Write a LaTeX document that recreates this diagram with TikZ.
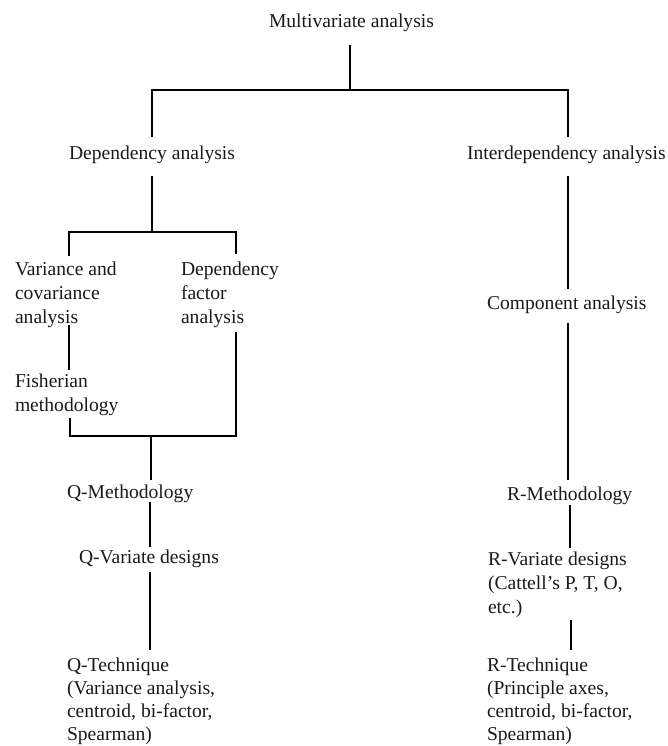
\documentclass[tikz,border=0pt]{standalone}
\usepackage{fontspec}
\setmainfont{Liberation Serif}
\definecolor{txt}{HTML}{1A1A1A}
\newcommand{\mlines}[1]{\begin{tabular}[t]{@{}l@{}}#1\end{tabular}}
\begin{document}
\begin{tikzpicture}[x=1pt,y=-1pt,
  lbl/.style={anchor=base west, inner sep=0pt, outer sep=0pt, text=txt,
              font=\fontsize{19.6}{24}\selectfont},
  lblb/.style={lbl, font=\fontsize{19.6}{23.3}\selectfont},
  conn/.style={line width=1.8pt, line join=miter, black}]
\useasboundingbox[fill=white] (0,0) rectangle (667,746);

% ---- text nodes ----
\node[lbl] (multi)  at (269,28)  {Multivariate analysis};
\node[lbl] (dep)    at (69,160)  {Dependency analysis};
\node[lbl] (inter)  at (467,160) {Interdependency analysis};
\node[lbl] (var)    at (15,275)  {\mlines{Variance and\\covariance\\analysis}};
\node[lbl] (depfac) at (181,275) {\mlines{Dependency\\factor\\analysis}};
\node[lbl] (fish)   at (15,387)  {\mlines{Fisherian\\methodology}};
\node[lbl] (qmeth)  at (67,498)  {Q-Methodology};
\node[lbl] (qvar)   at (79,563)  {Q-Variate designs};
\node[lblb] (qtech) at (67,671)  {\mlines{Q-Technique\\(Variance analysis,\\centroid, bi-factor,\\Spearman)}};
\node[lbl] (comp)   at (487,309) {Component analysis};
\node[lbl] (rmeth)  at (507,500) {R-Methodology};
\node[lbl] (rvar)   at (488,565) {\mlines{R-Variate designs\\(Cattell’s P, T, O,\\etc.)}};
\node[lblb] (rtech) at (487,671) {\mlines{R-Technique\\(Principle axes,\\centroid, bi-factor,\\Spearman)}};

% ---- connector end points ----
\coordinate (mB)   at (350,45);
\coordinate (mJ)   at (350,90);
\coordinate (dT)   at (152,137);
\coordinate (iT)   at (568,137);
\coordinate (dB)   at (152,176);
\coordinate (dJ)   at (152,232);
\coordinate (vT)   at (69,256);
\coordinate (fT)   at (236,254);
\coordinate (vB)   at (69,325);
\coordinate (fiT)  at (69,370);
\coordinate (fiB)  at (70,418);
\coordinate (fB)   at (236,332);
\coordinate (qJ)   at (151,436);
\coordinate (qmT)  at (151,480);
\coordinate (qmB)  at (150,502);
\coordinate (qvT)  at (150,547);
\coordinate (qvB)  at (150,572);
\coordinate (qtT)  at (150,650);
\coordinate (iB)   at (568,176);
\coordinate (cT)   at (568,289);
\coordinate (cB)   at (568,323);
\coordinate (rmT)  at (568,480);
\coordinate (rmB)  at (570,505);
\coordinate (rvT)  at (570,548);
\coordinate (rvB)  at (571,620);
\coordinate (rtT)  at (571,650);

% ---- connectors ----
\draw[conn] (mB) -- (mJ);
\draw[conn] (dT) |- (mJ) -| (iT);
\draw[conn] (dB) -- (dJ);
\draw[conn] (vT) |- (dJ) -| (fT);
\draw[conn] (vB) -- (fiT);
\draw[conn] (fiB) |- (qJ) -| (fB);
\draw[conn] (qJ) -- (qmT);
\draw[conn] (qmB) -- (qvT);
\draw[conn] (qvB) -- (qtT);
\draw[conn] (iB) -- (cT);
\draw[conn] (cB) -- (rmT);
\draw[conn] (rmB) -- (rvT);
\draw[conn] (rvB) -- (rtT);
\end{tikzpicture}
\end{document}
